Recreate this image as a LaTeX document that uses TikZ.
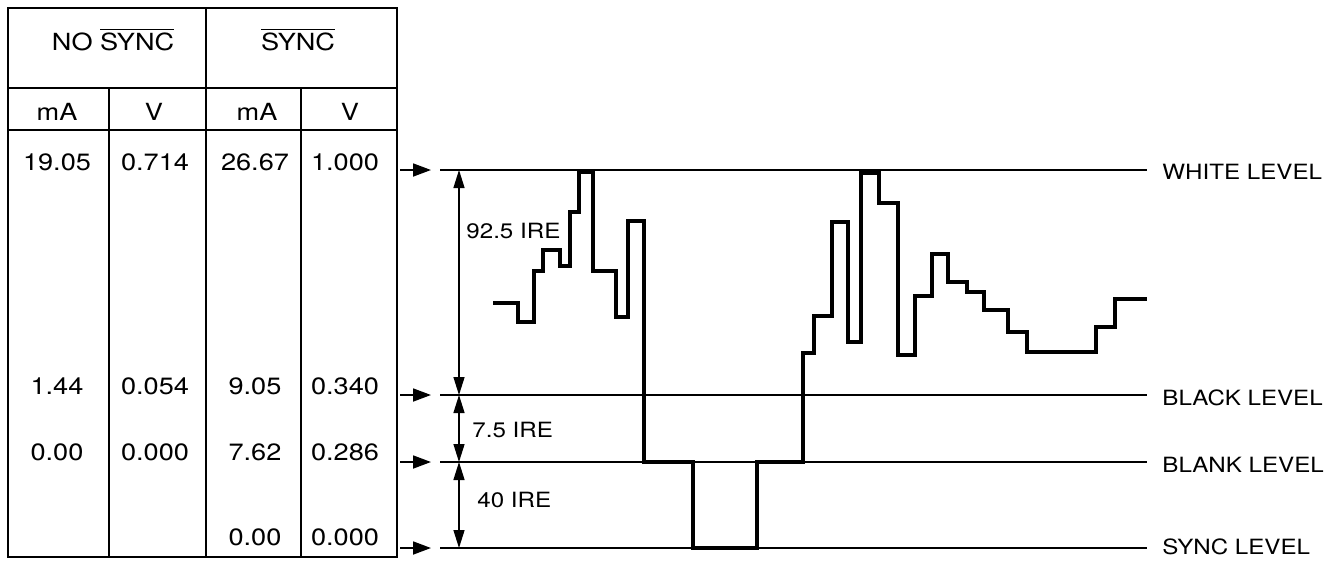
\documentclass[tikz,border=0pt]{standalone}
\usepackage{fontspec}
\setmainfont{TeX Gyre Heros}[FakeStretch=1.15]
\usetikzlibrary{arrows.meta}

\begin{document}
\begin{tikzpicture}[x=0.5pt,y=-0.5pt,
 cell/.style={font=\fontsize{11.8}{13}\selectfont,inner sep=0pt,anchor=base},
 lbl/.style={font=\fontsize{10.5}{12}\selectfont,inner sep=0pt,anchor=west},
 rule/.style={line width=1.1pt},
 lvl/.style={line width=0.9pt},
 ptr/.style={-{Triangle[length=9pt,width=6.5pt]},line width=0.9pt},
 dim/.style={{Triangle[length=9pt,width=5.5pt]}-{Triangle[length=9pt,width=5.5pt]},line width=0.7pt},
 wave/.style={line width=1.8pt}]
\useasboundingbox (0,0) rectangle (1343,562);
% table frame
\draw[rule] (8,8) rectangle (397,557);
\draw[rule] (8,88) -- (397,88) (8,130) -- (397,130);
\draw[rule] (206,8) -- (206,557) (109,88) -- (109,557) (301,88) -- (301,557);
% table text
\node[cell] (nosync) at (113,50) {NO $\overline{\hbox{SYNC}}$};
\node[cell] (sync) at (298,50) {$\overline{\hbox{SYNC}}$};
\node[cell] (unitA) at (57,120) {mA};
\node[cell] (unitB) at (154,120) {V};
\node[cell] (unitC) at (257,120) {mA};
\node[cell] (unitD) at (350,120) {V};
\node[cell] (wA) at (57,170) {19.05};
\node[cell] (wB) at (155,170) {0.714};
\node[cell] (wC) at (255,170) {26.67};
\node[cell] (wD) at (345,170) {1.000};
\node[cell] (bkA) at (57,394) {1.44};
\node[cell] (bkB) at (155,394) {0.054};
\node[cell] (bkC) at (255,394) {9.05};
\node[cell] (bkD) at (345,394) {0.340};
\node[cell] (blA) at (57,460) {0.00};
\node[cell] (blB) at (155,460) {0.000};
\node[cell] (blC) at (255,460) {7.62};
\node[cell] (blD) at (345,460) {0.286};
\node[cell] (sC) at (255,545) {0.00};
\node[cell] (sD) at (345,545) {0.000};
% levels
\coordinate (wtail) at (400,170); \coordinate (wtip) at (431,170);
\coordinate (wl) at (440,170); \coordinate (wr) at (1147,170);
\coordinate (bktail) at (400,395); \coordinate (bktip) at (431,395);
\coordinate (bkl) at (440,395); \coordinate (bkr) at (1147,395);
\coordinate (bltail) at (400,462); \coordinate (bltip) at (431,462);
\coordinate (bll) at (440,462); \coordinate (blr) at (1147,462);
\coordinate (stail) at (400,548); \coordinate (stip) at (431,548);
\coordinate (sl) at (440,548); \coordinate (sr) at (1147,548);
\draw[ptr] (wtail) -- (wtip); \draw[ptr] (bktail) -- (bktip);
\draw[ptr] (bltail) -- (bltip); \draw[ptr] (stail) -- (stip);
\draw[lvl] (wl) -- (wr); \draw[lvl] (bkl) -- (bkr);
\draw[lvl] (bll) -- (blr); \draw[lvl] (sl) -- (sr);
\node[lbl] (white) at (1162,172) {WHITE LEVEL};
\node[lbl] (black) at (1162,398) {BLACK LEVEL};
\node[lbl] (blank) at (1162,465) {BLANK LEVEL};
\node[lbl] (synclvl) at (1162,547) {SYNC LEVEL};
% IRE spans
\coordinate (d1) at (459,170); \coordinate (d2) at (459,395);
\coordinate (d3) at (459,462); \coordinate (d4) at (459,548);
\draw[dim] (d1) -- (d2); \draw[dim] (d2) -- (d3); \draw[dim] (d3) -- (d4);
\node[lbl] (ire92) at (466,231) {92.5 IRE};
\node[lbl] (ire7) at (472,430) {7.5 IRE};
\node[lbl] (ire40) at (477,500) {40 IRE};
% video line
\draw[wave] (493,303) -| (518,322) -| (534,271) -| (543,250) -| (560,266)
 -| (570,212) -| (579,172) -| (593,271) -| (616,317) -| (628,221) -| (644,462)
 -| (693,548) -| (757,462) -| (803,353) -| (814,316) -| (832,222) -| (848,342)
 -| (861,173) -| (879,203) -| (898,355) -| (915,296) -| (932,254) -| (948,282)
 -| (967,292) -| (984,310) -| (1008,332) -| (1027,352) -| (1096,327) -| (1115,299)
 -- (1147,299);
\end{tikzpicture}
\end{document}
